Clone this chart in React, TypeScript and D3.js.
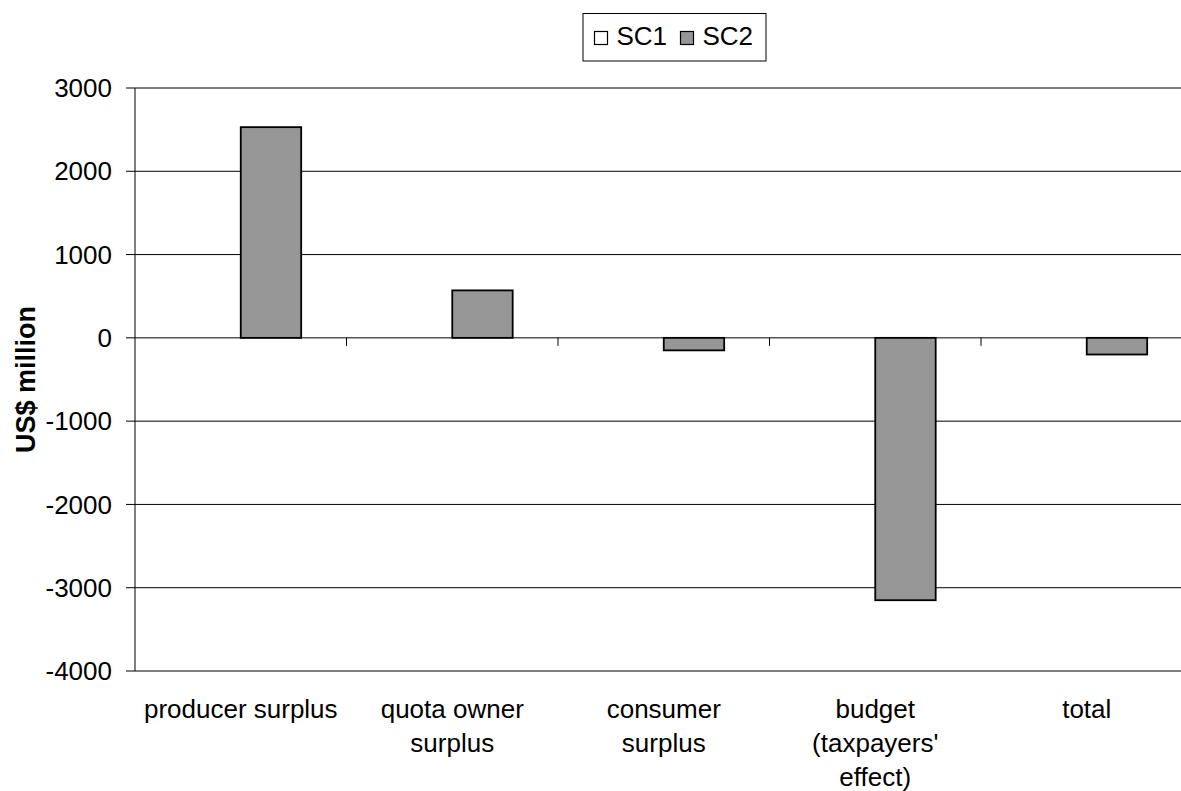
import React from "react";
import * as d3 from "d3";

// Welfare effects by component (US$ million)
const categoryLines: string[][] = [
  ["producer surplus"],
  ["quota owner", "surplus"],
  ["consumer", "surplus"],
  ["budget", "(taxpayers'", "effect)"],
  ["total"],
];
const categories = categoryLines.map((l) => l.join(" "));
const seriesNames = ["SC1", "SC2"];
const sc1Values = [0, 0, 0, 0, 0];
const sc2Values = [2530, 570, -150, -3150, -200];
const yTicks = [3000, 2000, 1000, 0, -1000, -2000, -3000, -4000];
const seriesFill = ["#ffffff", "#969696"];

const W = 1181;
const H = 791;
const FONT = "'Liberation Sans', Arial, Helvetica, sans-serif";

export default function App() {
  const left = 135;
  const right = 1192.5;
  const top = 88;
  const bottom = 671;

  const y = d3.scaleLinear().domain([-4000, 3000]).range([bottom, top]);
  const x = d3.scaleBand<string>().domain(categories).range([left, right]).padding(0);
  const inner = d3
    .scaleBand<string>()
    .domain(seriesNames)
    .range([0, x.bandwidth()])
    .paddingInner(0)
    .paddingOuter(0.75);

  const series = [sc1Values, sc2Values];
  const y0 = y(0);
  const labelTop = 718;
  const lineGap = 34;

  return (
    <svg
      width={W}
      height={H}
      style={{ position: "absolute", left: 0, top: 0, background: "#fff" }}
      fontFamily={FONT}
    >
      {/* horizontal gridlines */}
      {yTicks.map((t) => (
        <line key={"g" + t} x1={left} x2={right} y1={y(t)} y2={y(t)} stroke="#000" strokeWidth={1} />
      ))}
      {/* value axis */}
      <line x1={left} x2={left} y1={top} y2={bottom} stroke="#000" strokeWidth={1} />
      {yTicks.map((t) => (
        <g key={"t" + t}>
          <line x1={left - 9} x2={left} y1={y(t)} y2={y(t)} stroke="#000" strokeWidth={1} />
          <text x={112} y={y(t)} dy="0.35em" textAnchor="end" fontSize={26} fill="#000">
            {t}
          </text>
        </g>
      ))}
      {/* category tick marks on the zero line */}
      {categories.slice(1).map((c) => (
        <line
          key={"ct" + c}
          x1={x(c)!}
          x2={x(c)!}
          y1={y0}
          y2={y0 + 8}
          stroke="#000"
          strokeWidth={1}
        />
      ))}
      {/* bars */}
      {series.map((vals, si) =>
        vals.map((v, i) => {
          const c = categories[i];
          const bx = x(c)! + inner(seriesNames[si])!;
          const by = Math.min(y(v), y0);
          const bh = Math.abs(y(v) - y0);
          if (bh === 0) return null;
          return (
            <rect
              key={`b${si}-${i}`}
              x={bx}
              y={by}
              width={inner.bandwidth()}
              height={bh}
              fill={seriesFill[si]}
              stroke="#000"
              strokeWidth={1.8}
            />
          );
        })
      )}
      {/* category labels */}
      {categoryLines.map((lines, i) => (
        <text
          key={"cl" + i}
          x={x(categories[i])! + x.bandwidth() / 2}
          y={labelTop}
          textAnchor="middle"
          fontSize={26}
          fill="#000"
        >
          {lines.map((ln, j) => (
            <tspan key={j} x={x(categories[i])! + x.bandwidth() / 2} y={labelTop + j * lineGap}>
              {ln}
            </tspan>
          ))}
        </text>
      ))}
      {/* axis title */}
      <text
        transform={`translate(35, ${(top + bottom) / 2}) rotate(-90)`}
        textAnchor="middle"
        fontSize={27}
        fontWeight="bold"
        fill="#000"
      >
        US$ million
      </text>
      {/* legend */}
      <rect x={583} y={13.5} width={183} height={47.5} fill="#fff" stroke="#000" strokeWidth={1} />
      {seriesNames.map((s, i) => {
        const mx = i === 0 ? 594.5 : 680.5;
        return (
          <g key={"lg" + s}>
            <rect x={mx} y={31.5} width={13} height={13} fill={seriesFill[i]} stroke="#000" strokeWidth={1.2} />
            <text x={mx + 22} y={44.5} fontSize={26} fill="#000">
              {s}
            </text>
          </g>
        );
      })}
    </svg>
  );
}
